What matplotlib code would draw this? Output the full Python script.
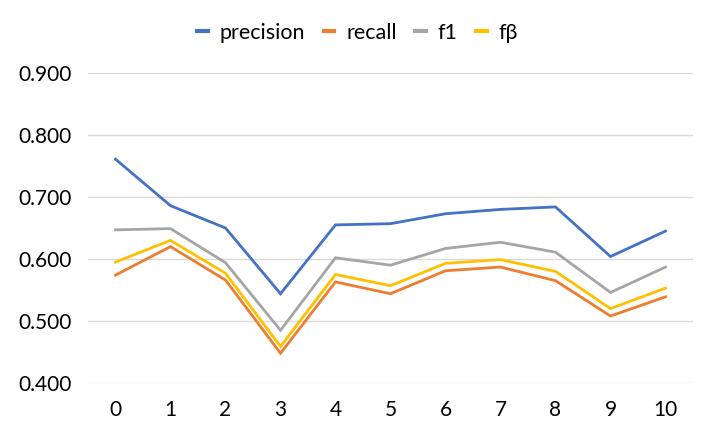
import matplotlib
matplotlib.use('Agg')
import matplotlib.pyplot as plt

steps = list(range(11))
precision = [0.761, 0.686, 0.650, 0.544, 0.655, 0.657, 0.673, 0.680, 0.684, 0.604, 0.645]
recall = [0.574, 0.620, 0.566, 0.448, 0.563, 0.544, 0.581, 0.587, 0.565, 0.508, 0.539]
f1 = [0.647, 0.649, 0.594, 0.485, 0.602, 0.590, 0.617, 0.627, 0.611, 0.546, 0.587]
fbeta = [0.595, 0.630, 0.577, 0.459, 0.575, 0.557, 0.593, 0.599, 0.580, 0.520, 0.553]
y_ticks = [0.4, 0.5, 0.6, 0.7, 0.8, 0.9]

plt.rcParams['font.family'] = ['Lato', 'DejaVu Sans']

fig = plt.figure(figsize=(7.15, 4.42), dpi=100)
ax = fig.add_axes([88 / 715, 59 / 442, 605 / 715, 310 / 442])

series = [('precision', precision, '#4472C4'),
          ('recall', recall, '#ED7D31'),
          ('f1', f1, '#A5A5A5'),
          ('fβ', fbeta, '#FFC000')]
for name, vals, color in series:
    ax.plot(steps, vals, color=color, lw=2.0, label=name, solid_joinstyle='miter')

ax.set_xlim(-0.5, 10.5)
ax.set_ylim(0.4, 0.9)
ax.set_yticks(y_ticks)
ax.set_yticklabels(['%.3f' % v for v in y_ticks])
ax.set_xticks(steps)
ax.grid(axis='y', color='#D9D9D9', lw=1.0)
ax.set_axisbelow(True)
for s in ax.spines.values():
    s.set_visible(False)
ax.tick_params(length=0, labelsize=15, colors='black')
ax.tick_params(axis='y', pad=12)
ax.tick_params(axis='x', pad=12)

leg = fig.legend(loc='center', bbox_to_anchor=(0.5, 1 - 33 / 442), ncol=4, frameon=False,
                 fontsize=15.5, handlelength=0.5, handletextpad=0.55, columnspacing=0.85)
for h in leg.legend_handles:
    h.set_linewidth(3.0)

fig.savefig('out.png', dpi=100)
